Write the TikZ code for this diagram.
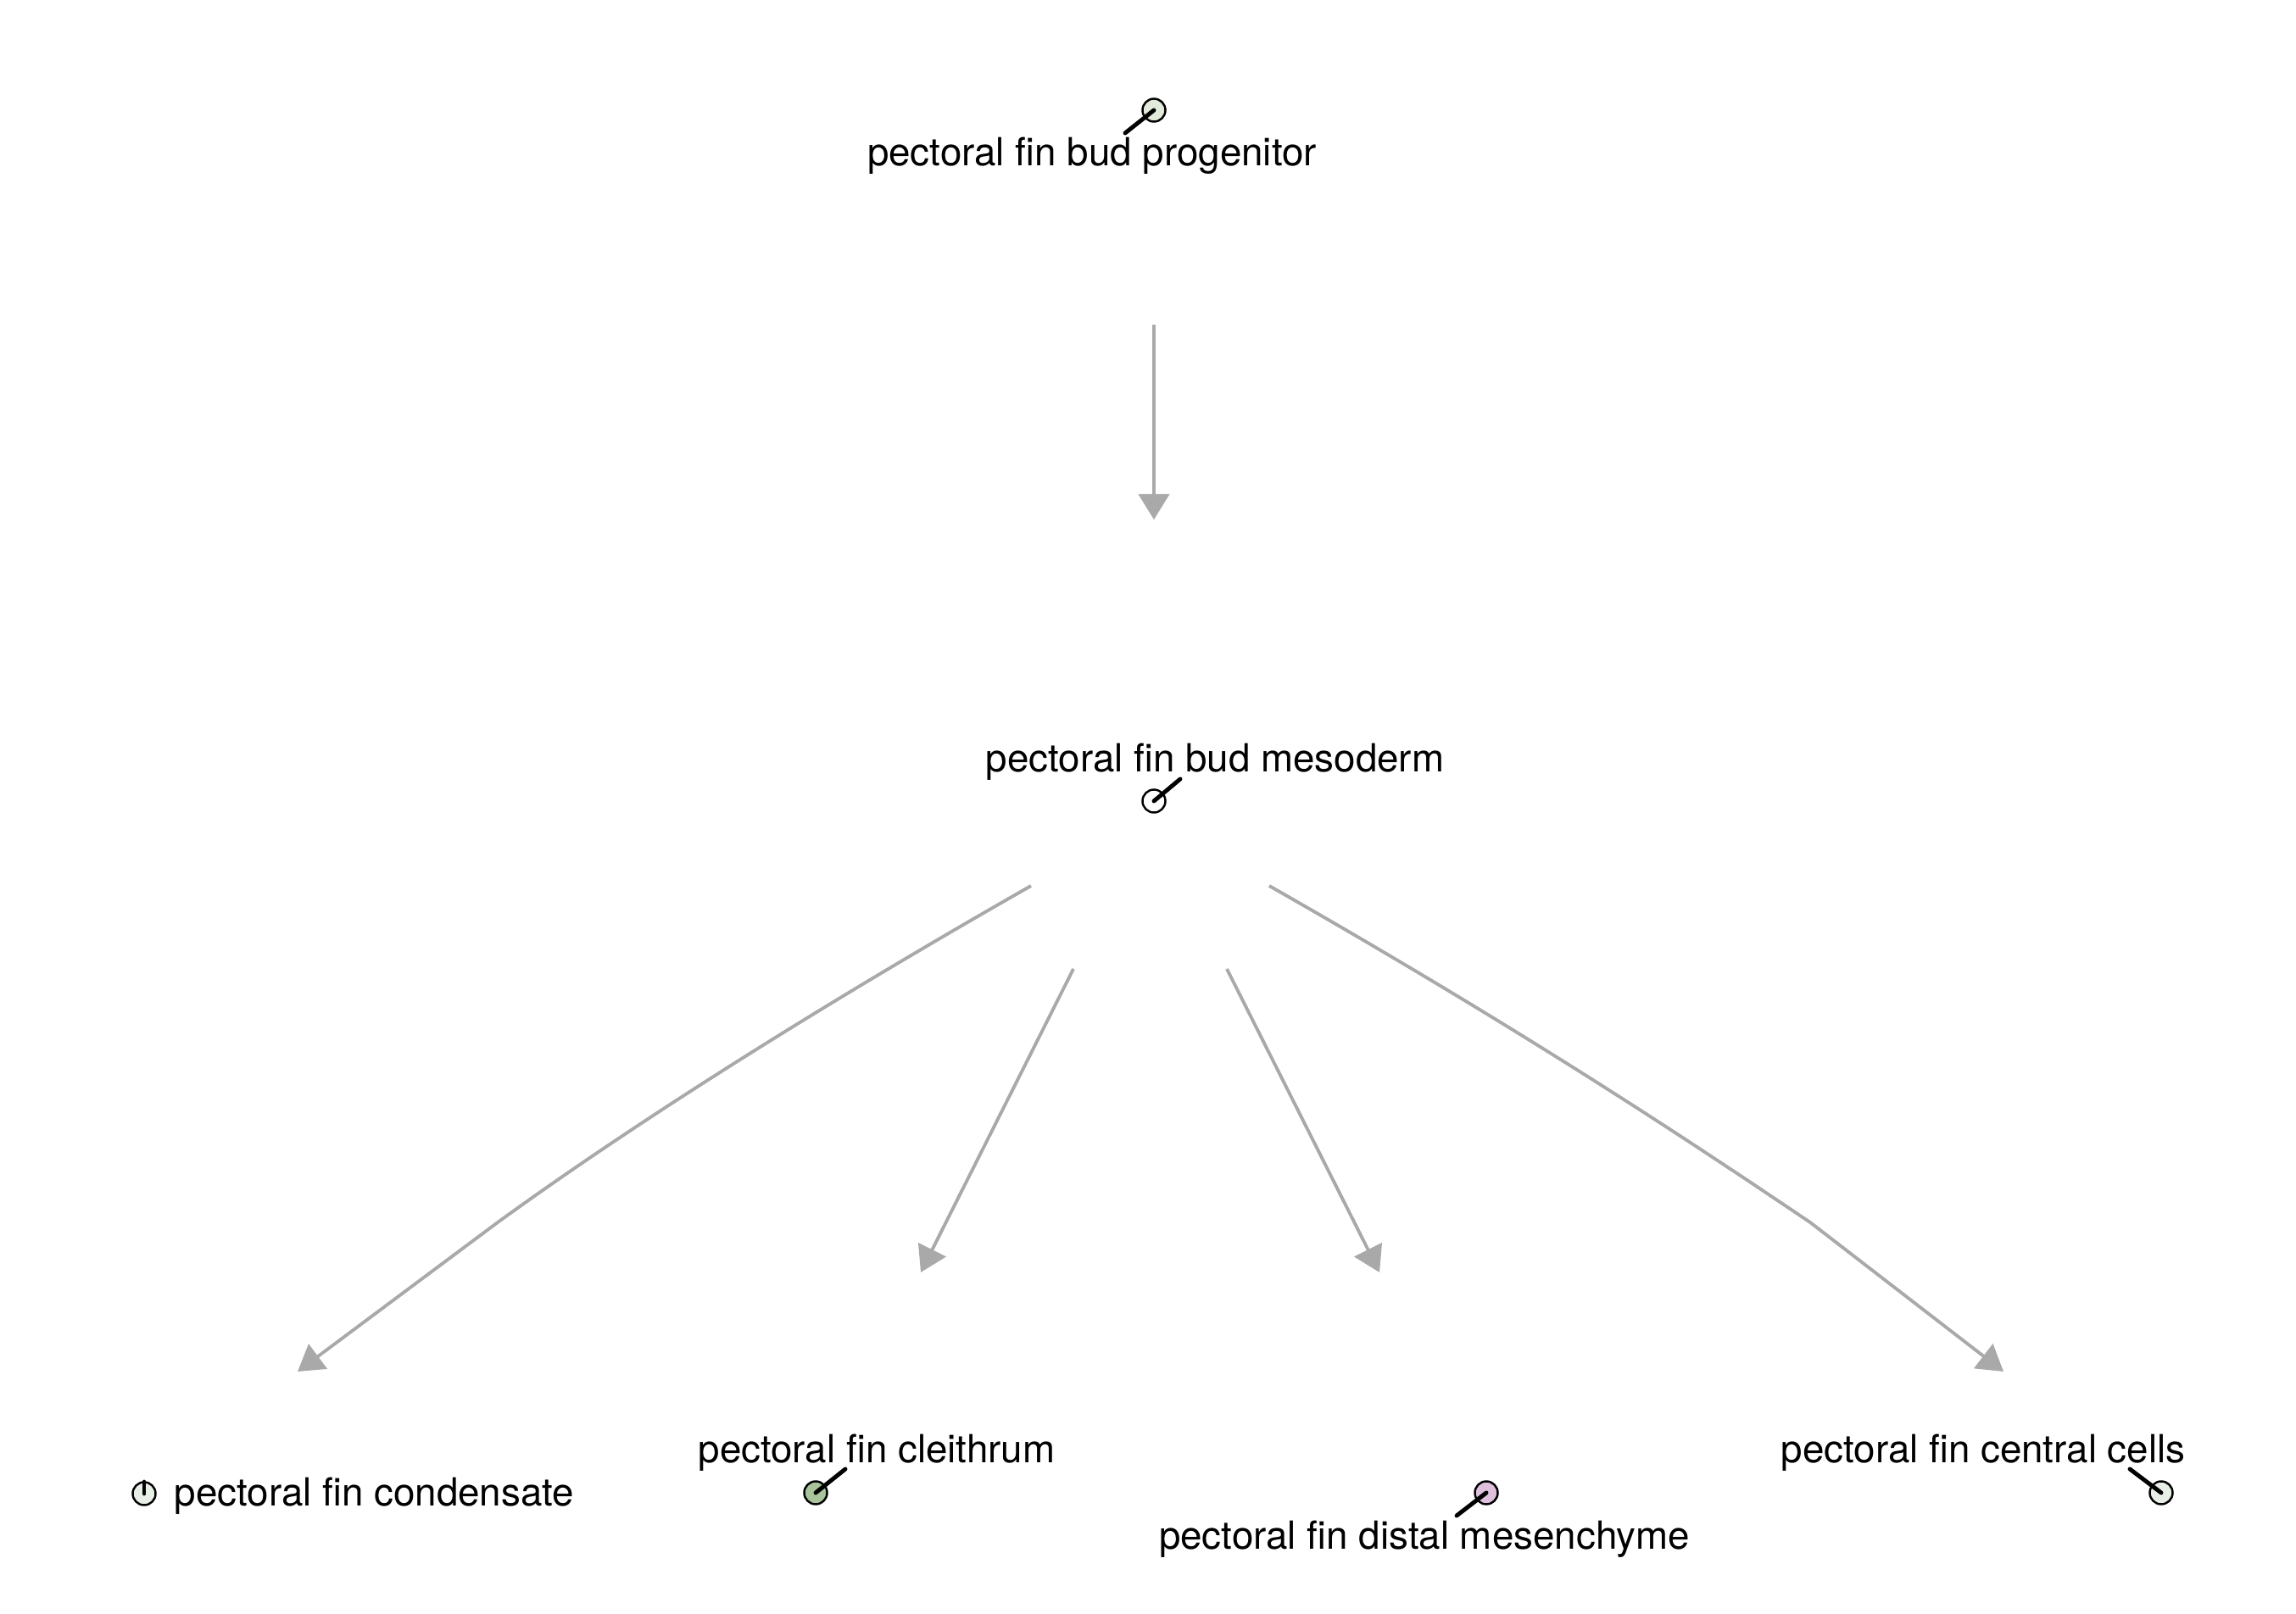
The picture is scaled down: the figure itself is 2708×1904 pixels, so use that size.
\documentclass[tikz,border=0pt]{standalone}
\usepackage{fontspec}
\setmainfont{TeX Gyre Heros}
\usepackage{tikz}
\usetikzlibrary{arrows.meta}

\definecolor{edgegray}{HTML}{A9A9A9}
\definecolor{pinprog}{HTML}{E1EADB}
\definecolor{pincond}{HTML}{E8EFE6}
\definecolor{pincleith}{HTML}{A9C49A}
\definecolor{pindistal}{HTML}{DFC0DC}
\definecolor{pincentral}{HTML}{E8EFE6}

\tikzset{
    celllabel/.style={inner sep=0pt, font=\fontsize{13}{15}\selectfont},
    pin/.style={circle, draw=black, line width=0.7pt, minimum size=0.27cm, inner sep=0pt},
    pinline/.style={line width=1.4pt, line cap=round},
    lineage/.style={draw=edgegray, line width=1.1pt, -{Triangle[length=0.3cm, width=0.36cm]}}
}

\begin{document}
\begin{tikzpicture}[x=0.01cm, y=-0.01cm]
    \useasboundingbox (0,0) rectangle (2708,1904);

    % cell types
    \node[celllabel] (prog) at (1288,184) {pectoral fin bud progenitor};
    \node[pin, fill=pinprog] (progpin) at (1361,130) {};
    \coordinate (progtip) at (1327,157);

    \node[celllabel] (meso) at (1433,899) {pectoral fin bud mesoderm};
    \node[pin, fill=white] (mesopin) at (1361,945) {};
    \coordinate (mesotip) at (1392,919);

    \node[celllabel, anchor=west] (cond) at (205,1765) {pectoral fin condensate};
    \node[pin, fill=pincond] (condpin) at (170,1762) {};
    \coordinate (condtip) at (170,1748);

    \node[celllabel] (cleith) at (1034,1714) {pectoral fin cleithrum};
    \node[pin, fill=pincleith] (cleithpin) at (962,1761) {};
    \coordinate (cleithtip) at (997,1733);

    \node[celllabel] (distal) at (1680,1816) {pectoral fin distal mesenchyme};
    \node[pin, fill=pindistal] (distalpin) at (1753,1761) {};
    \coordinate (distaltip) at (1718,1788);

    \node[celllabel] (central) at (2339,1714) {pectoral fin central cells};
    \node[pin, fill=pincentral] (centralpin) at (2549,1761) {};
    \coordinate (centraltip) at (2512,1733);

    \foreach \p in {prog, meso, cond, cleith, distal, central}
        \draw[pinline] (\p pin.center) -- (\p tip);

    % edge ends
    \coordinate (progout) at (1361,383);
    \coordinate (mesoin) at (1361,613);
    \coordinate (mesoout1) at (1216,1045);
    \coordinate (mesoout2) at (1266,1143);
    \coordinate (mesoout3) at (1447,1143);
    \coordinate (mesoout4) at (1497,1045);
    \coordinate (condin) at (351,1618);
    \coordinate (cleithin) at (1086,1501);
    \coordinate (distalin) at (1627,1501);
    \coordinate (centralin) at (2363,1618);

    \draw[lineage] (progout) -- (mesoin);
    \draw[lineage] (mesoout1) .. controls (900,1225) and (700,1360) .. (587,1442) -- (condin);
    \draw[lineage] (mesoout2) -- (cleithin);
    \draw[lineage] (mesoout3) -- (distalin);
    \draw[lineage] (mesoout4) .. controls (1813,1225) and (2013,1360) .. (2135,1442) -- (centralin);
\end{tikzpicture}
\end{document}
